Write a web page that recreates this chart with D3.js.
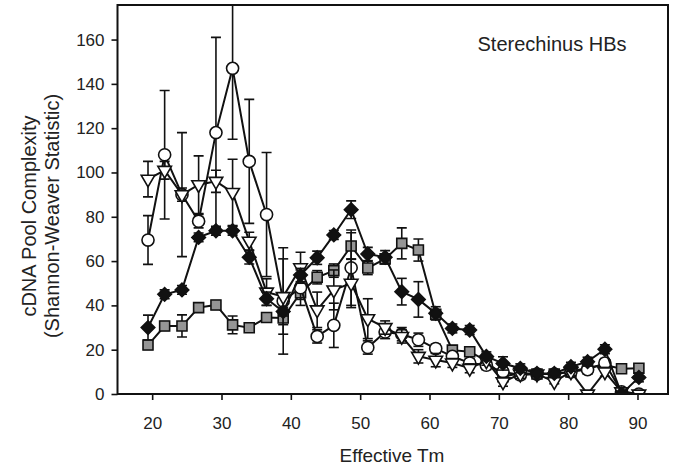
<!DOCTYPE html>
<html><head><meta charset="utf-8">
<script src="https://cdn.jsdelivr.net/npm/d3@7"></script>
<style>
html,body{margin:0;padding:0;background:#fff;}
text{font-family:"Liberation Sans",Arial,sans-serif;fill:#222;}
</style></head>
<body>
<svg id="chart" width="679" height="468"></svg>
<script>
// Effective Tm values (x)
const tm = [19.4,21.8,24.3,26.7,29.2,31.6,34.0,36.5,38.9,41.4,43.8,46.2,48.7,51.1,53.6,56.0,58.4,60.9,63.3,65.8,68.2,70.6,73.1,75.5,78.0,80.4,82.8,85.3,87.7,90.2];
// Open circles
const circleVals = [69.5,108,90,78,118,147,105,81,42,48,26,31,57,21,28,27,24.5,20.5,17,14,13,10,8.6,9,9,10,11,14,1,0];
const circleErr  = [11,29,28,3,43,32,28,28,24,8,3,10,17,3,3,3,3,2,2,2,2,2,2,1,1,2,2,2,1,1];
// Open inverted triangles
const triVals = [97,101,90,94.5,96,91,69,46,44,57,38,47,50,34,30,26,17,15.3,14,11.6,15,5.5,9,9,5.6,10,0,10,1,0];
const triErr  = [8,4,3,13,5,15,4,6,17,7,8,9,11,9,3,3,3,3,2,2,2,2,2,1,1,2,1,2,1,1];
// Filled diamonds
const diaVals = [30,45,47,70.7,73.7,73.7,61.7,43,37.2,53.7,61.5,71.8,83.2,63.2,61.7,46.2,42.7,36.4,29.6,28.9,17,13.8,11.6,9.3,9.3,12.3,14.6,20.2,0,7.5];
const diaErr  = [5.6,2,2,2,2,2,3,3,2,3,3,2,4,3,3,6,8,3,2,2,2,3,2,1,1,2,2,2,1,2];
// Gray squares
const sqVals = [22.1,30.7,30.7,39,40.2,31.2,29.9,34.5,34.3,45.7,52.7,55.7,66.8,56.9,61,68,65,36,19.8,19.1,15,7.8,9.5,9,9,10,12,13.1,11.4,11.6];
const sqErr  = [2,2,5,2,2,4,2,2,3,3,3,3,6,3,2,7,5,2,2,2,3,2,2,1,1,2,2,2,1,2];

const yTicks = [0,20,40,60,80,100,120,140,160];
const xTicks = [20,30,40,50,60,70,80,90];

const svg = d3.select("#chart");
const L=117.5, R=668, T=5, B=394;
const x = d3.scaleLinear().domain([15,94.4]).range([L,R]);
const y = d3.scaleLinear().domain([0,175.6]).range([B,T]);

svg.append("defs").append("clipPath").attr("id","clip")
  .append("rect").attr("x",L).attr("y",T).attr("width",R-L).attr("height",B-T);

// axes
const ya = svg.append("g").attr("transform",`translate(${L},0)`)
  .call(d3.axisLeft(y).tickValues(yTicks).tickSize(6).tickPadding(7).tickFormat(d3.format("d")));
const xa = svg.append("g").attr("transform",`translate(0,${B})`)
  .call(d3.axisBottom(x).tickValues(xTicks).tickSize(6).tickPadding(17).tickFormat(d3.format("d")));
[ya,xa].forEach(g=>{
  g.select(".domain").remove();
  g.selectAll(".tick line").attr("stroke","#111").attr("stroke-width",1.6);
  g.selectAll(".tick text").attr("font-size",17).attr("fill","#222")
    .style("font-family","'Liberation Sans',Arial,sans-serif");
});

const plot = svg.append("g").attr("clip-path","url(#clip)");

const series = [
  {vals:sqVals, err:sqErr, sym:d3.symbolSquare, size:100, fill:"#959595", rot:0},
  {vals:circleVals, err:circleErr, sym:d3.symbolCircle, size:115, fill:"#fff", rot:0},
  {vals:triVals, err:triErr, sym:d3.symbolTriangle, size:80, fill:"#fff", rot:180},
  {vals:diaVals, err:diaErr, sym:d3.symbolSquare, size:92, fill:"#111", rot:45}
];

series.forEach(s=>{
  const g = plot.append("g");
  const pts = tm.map((t,i)=>({x:t,v:s.vals[i],e:s.err[i]}));
  // error bars
  const eb = g.selectAll(".eb").data(pts).join("g");
  eb.append("line").attr("x1",d=>x(d.x)).attr("x2",d=>x(d.x))
    .attr("y1",d=>y(d.v+d.e)).attr("y2",d=>y(d.v-d.e))
    .attr("stroke","#111").attr("stroke-width",1.6);
  [1,-1].forEach(sg=>{
    eb.append("line").attr("x1",d=>x(d.x)-5).attr("x2",d=>x(d.x)+5)
      .attr("y1",d=>y(d.v+sg*d.e)).attr("y2",d=>y(d.v+sg*d.e))
      .attr("stroke","#111").attr("stroke-width",1.6);
  });
  g.append("path").datum(pts)
    .attr("d",d3.line().x(d=>x(d.x)).y(d=>y(d.v)))
    .attr("fill","none").attr("stroke","#111").attr("stroke-width",2);
  g.selectAll(".m").data(pts).join("path")
    .attr("transform",d=>`translate(${x(d.x)},${y(d.v)}) rotate(${s.rot})`)
    .attr("d",d3.symbol().type(s.sym).size(s.size))
    .attr("fill",s.fill).attr("stroke","#111").attr("stroke-width",1.6);
});

// frame
svg.append("rect").attr("x",L).attr("y",T).attr("width",R-L).attr("height",B-T)
  .attr("fill","none").attr("stroke","#111").attr("stroke-width",2);

svg.append("text").attr("x",552).attr("y",51).attr("text-anchor","middle")
  .attr("font-size",20).text("Sterechinus HBs");

svg.append("text").attr("x",392).attr("y",462).attr("text-anchor","middle")
  .attr("font-size",19).text("Effective Tm");

const yt = svg.append("text").attr("transform","translate(36,216) rotate(-90)")
  .attr("text-anchor","middle").attr("font-size",20);
yt.append("tspan").attr("x",0).attr("dy",0).text("cDNA Pool Complexity");
yt.append("tspan").attr("x",0).attr("dy",23).text("(Shannon-Weaver Statistic)");
</script>
</body></html>
